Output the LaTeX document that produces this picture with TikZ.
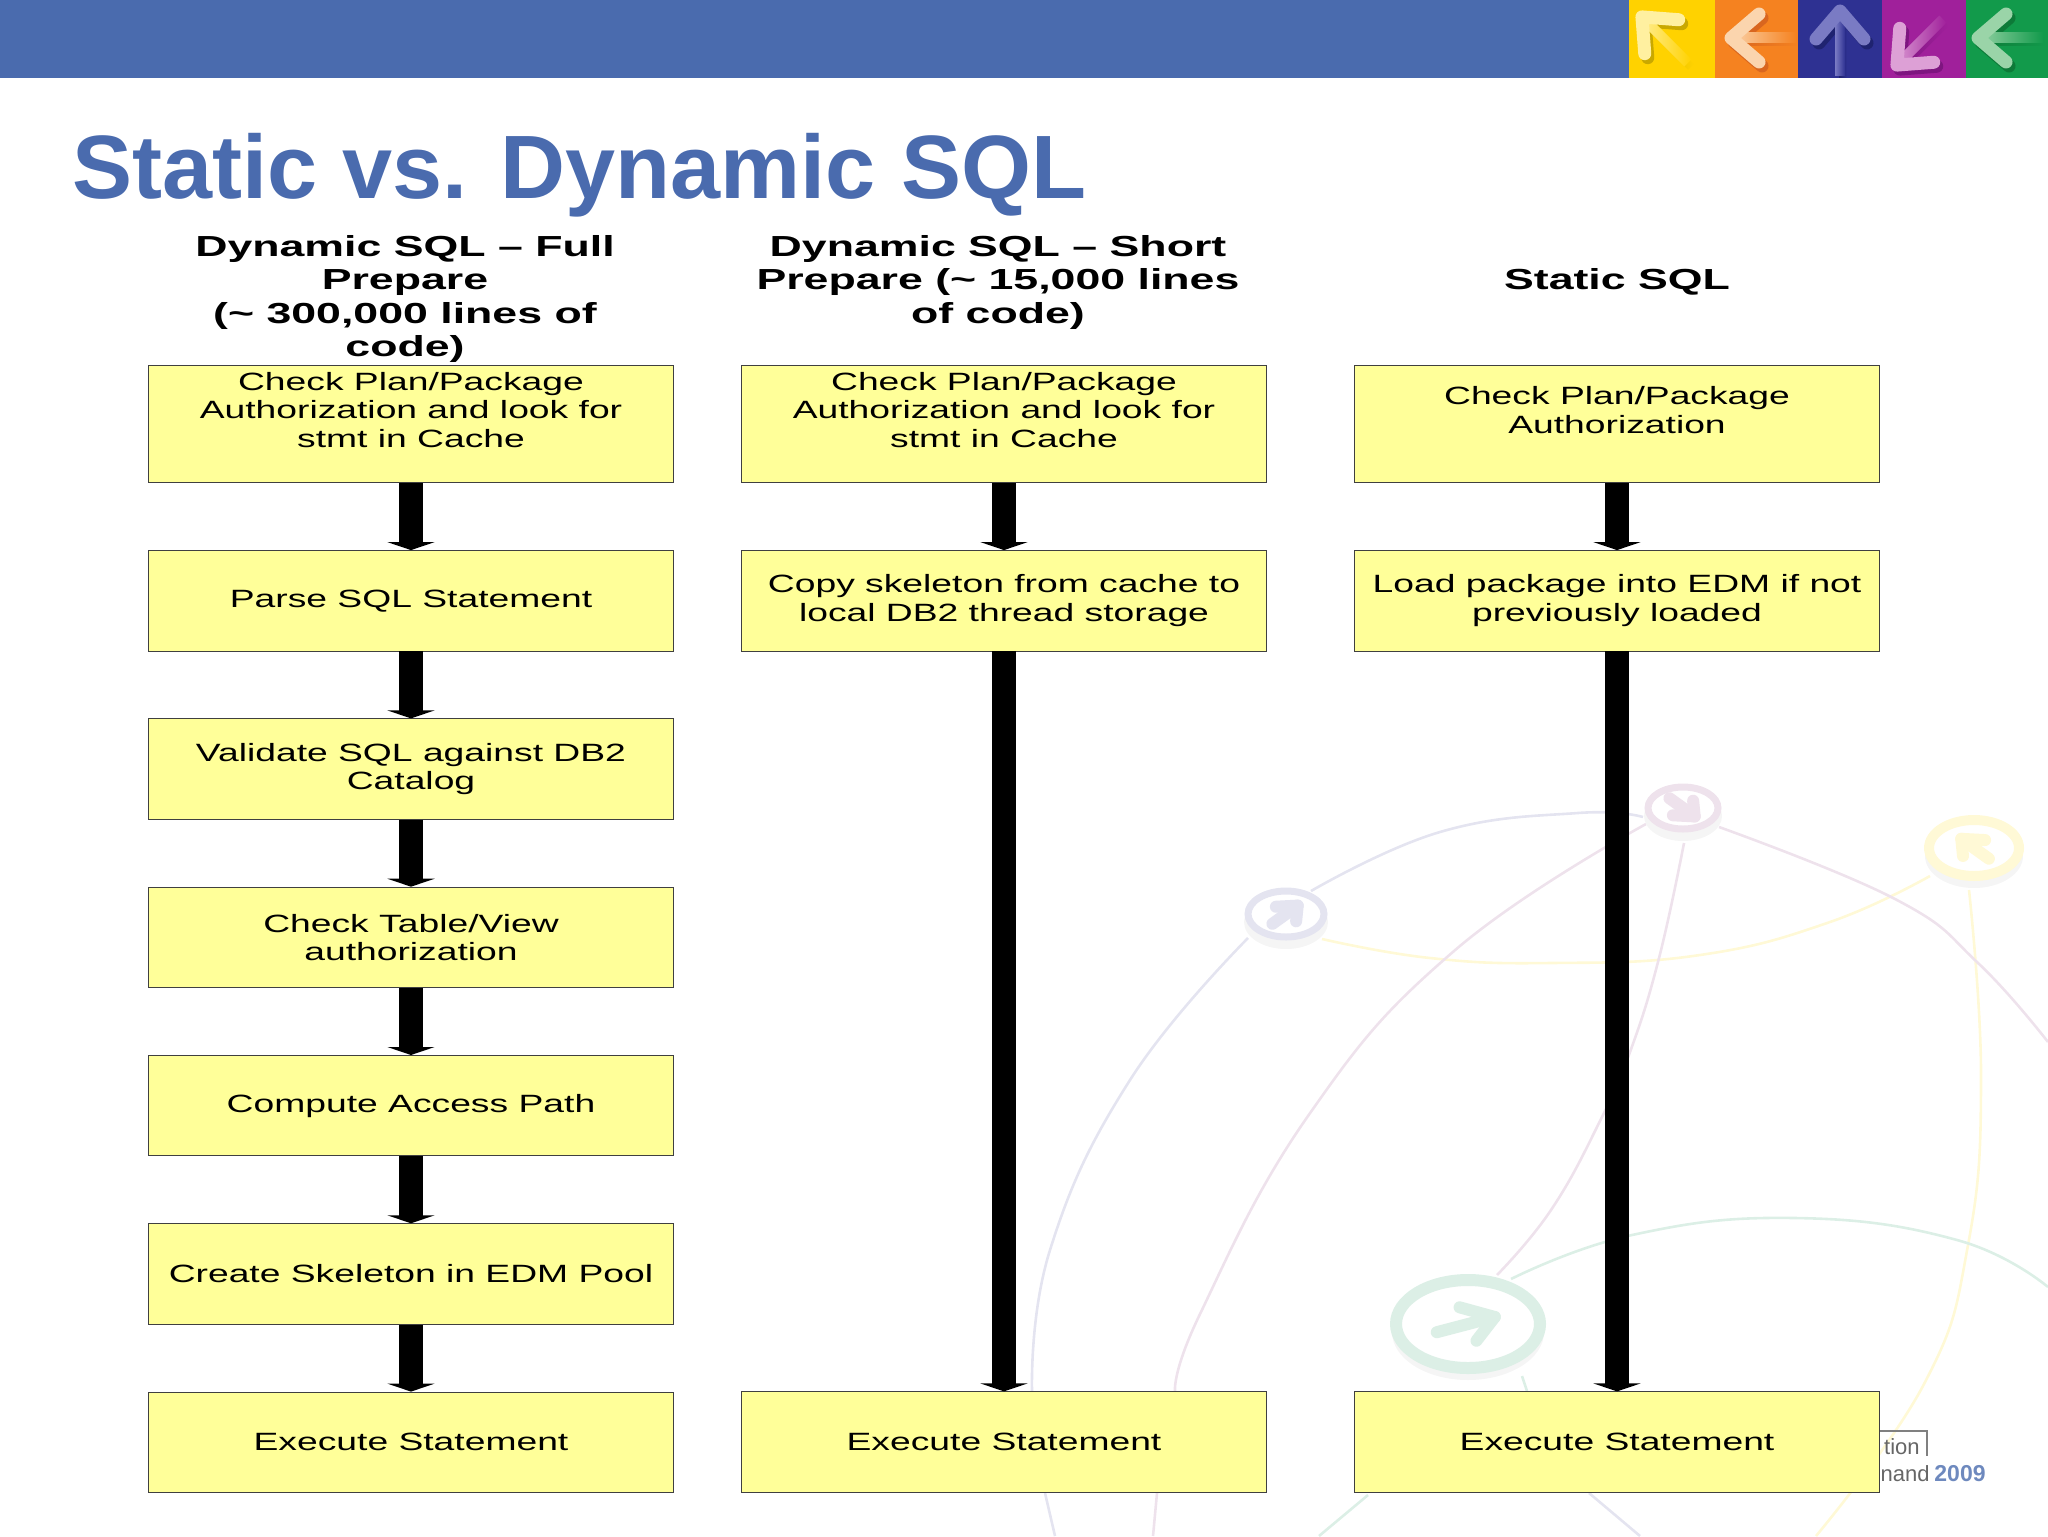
\documentclass[tikz,border=0pt]{standalone}
\usepackage{fontspec}
\usepackage{tikz}
\usetikzlibrary{positioning,arrows.meta}
\setmainfont{Liberation Sans}
\newfontfamily\wideface[FakeStretch=1.49]{Liberation Sans}
\newfontfamily\headface[FakeStretch=1.54]{Liberation Sans}
\definecolor{barblue}{HTML}{4A6BAE}
\definecolor{boxyellow}{HTML}{FFFF99}
\definecolor{palelav}{HTML}{E4E4F0}
\definecolor{palemauve}{HTML}{EEE2EC}
\definecolor{paleyellow}{HTML}{FFF9D6}
\definecolor{palegreen}{HTML}{DCEFE6}

\newcommand{\arrowmark}[2]{%
	\draw[#1,line width=#2,line cap=round,line join=round] (0,-26) -- (-30,0) -- (0,26);
	\draw[#1,line width=#2,line cap=round] (-30,0) -- (35,0);
}
\newcommand{\tilemark}[3]{%
	\shade[left color=#1,right color=#2] (-30,-#3) rectangle (38,#3);
	\draw[#1,line width=6.5pt,line cap=round,line join=round] (1,-24) -- (-27,0) -- (1,24);
}

\begin{document}
\begin{tikzpicture}
[x=0.5pt,y=-0.5pt,node distance=33.55pt,
stepbox/.style={draw=black!75,line width=0.4pt,fill=boxyellow,inner sep=0pt,align=center,
	minimum width=262.6pt,minimum height=50.2pt,
	font=\wideface\fontsize{12.5}{14.2}\selectfont},
tallbox/.style={stepbox,minimum height=58.6pt},
headtext/.style={align=center,inner sep=0pt,font=\headface\bfseries\fontsize{14.5}{16.75}\selectfont},
flowarrow/.style={-{Triangle[width=23.5pt,length=4pt]},line width=12.3pt},
bgarc/.style={line width=1.3pt,smooth,tension=0.75}]

\useasboundingbox (0,0) rectangle (2048,1536);

% banner
\fill[barblue] (0,0) rectangle (1629,78);
\begin{scope}
\clip (1629,0) rectangle (2048,78);
\foreach \xa/\xb/\xc/\yc/\rot/\tile/\ink/\dark in {1629/1715/1661/36/-45/FFD200/FFF0A0/C9A800,1715/1798/1758/38/0/F58220/FBD5AE/D9661F,1798/1882/1840/38/-90/2E3192/7A7BC4/1F2370,1882/1966/1916/46/45/A0209B/DDA0D6/7E1580,1966/2048/2005/38/0/129A4B/9AD4A8/0D7A38}{
	\definecolor{tilecol}{HTML}{\tile}
	\definecolor{inkcol}{HTML}{\ink}
	\definecolor{darkcol}{HTML}{\dark}
	\fill[tilecol] (\xa,0) rectangle (\xb,78);
	\begin{scope}[shift={(\xc+3,\yc+4)},rotate=\rot]
	\tilemark{darkcol}{tilecol}{4}
	\end{scope}
	\begin{scope}[shift={(\xc,\yc)},rotate=\rot]
	\tilemark{inkcol}{tilecol}{5}
	\end{scope}
}
\end{scope}

% background arcs
\draw[bgarc,palelav] plot[smooth,tension=0.75] coordinates {(1311,891) (1440,832) (1578,813) (1643,817)};
\draw[bgarc,palelav] plot[smooth,tension=0.75] coordinates {(1248,938) (1130,1080) (1050,1250) (1032,1391)};
\draw[bgarc,palelav] plot[smooth] coordinates {(1045,1493) (1055,1536)};
\draw[bgarc,palelav] plot[smooth] coordinates {(1589,1493) (1640,1536)};
\draw[bgarc,paleyellow] plot[smooth,tension=0.75] coordinates {(1322,939) (1430,958) (1551,963) (1700,955) (1830,922) (1930,876)};
\draw[bgarc,paleyellow] plot[smooth,tension=0.75] coordinates {(1969,890) (1981,1077) (1968,1245) (1924,1384) (1816,1536)};
\draw[bgarc,palemauve] plot[smooth,tension=0.75] coordinates {(1646,824) (1454,951) (1308,1116) (1200,1314) (1175,1391)};
\draw[bgarc,palemauve] plot[smooth] coordinates {(1157,1493) (1153,1536)};
\draw[bgarc,palemauve] plot[smooth,tension=0.75] coordinates {(1684,843) (1659,958) (1630,1052) (1600,1121) (1551,1210) (1497,1275)};
\draw[bgarc,palemauve] plot[smooth,tension=0.75] coordinates {(1719,827) (1895,899) (1978,963) (2048,1042)};
\draw[bgarc,palegreen] plot[smooth,tension=0.75] coordinates {(1511,1279) (1632,1235) (1795,1218) (1957,1240) (2048,1287)};
\draw[bgarc,palegreen] plot[smooth] coordinates {(1522,1376) (1527,1391)};
\draw[bgarc,palegreen] plot[smooth] coordinates {(1368,1495) (1319,1536)};

% rings
\foreach \xc/\yc/\rx/\ry/\thick/\rot/\sz/\col in {1286/914/38/23/3.5pt/225/0.55/palelav,1683/808/35/21/3.5pt/135/0.55/palemauve,1974/848/45/28/5pt/-45/0.6/paleyellow,1468/1324/72/44/6pt/-160/0.95/palegreen}{
	\fill[black!4] (\xc,\yc+8) ellipse [x radius=\rx+4,y radius=\ry+4];
	\fill[white] (\xc,\yc) ellipse [x radius=\rx,y radius=\ry];
	\draw[\col,line width=\thick] (\xc,\yc) ellipse [x radius=\rx,y radius=\ry];
	\begin{scope}[shift={(\xc,\yc)},yscale=0.72,scale=\sz,rotate=\rot]
	\arrowmark{\col}{6pt}
	\end{scope}
}

% footer
\draw[black!50,line width=0.6pt] (1870,1431) -- (1927,1431) -- (1927,1456);
\node (tagone) [anchor=base east,inner sep=0pt,text=black!60,font=\fontsize{11}{11}\selectfont] at (1920,1454) {tion};
\node (tagtwo) [anchor=base east,inner sep=0pt,text=black!60,font=\fontsize{11}{11}\selectfont] at (1930,1481) {nand};
\node (tagyear) [anchor=base west,inner sep=0pt,text=barblue!80,font=\bfseries\fontsize{11.5}{11.5}\selectfont] at (1934,1481) {2009};

% title
\node (title) [anchor=base west,inner sep=0pt,text=barblue,font=\bfseries\fontsize{45}{50}\selectfont] at (72,198) {Static vs. Dynamic SQL};

% column heads
\node (headfull) [headtext] at (405,299) {Dynamic SQL – Full\\Prepare\\(\symbol{126} 300,000 lines of\\code)};
\node (headshort) [headtext] at (998,282) {Dynamic SQL – Short\\Prepare (\symbol{126} 15,000 lines\\of code)};
\node (headstatic) [headtext] at (1617,282) {Static SQL};

% full prepare
\node (full1) [tallbox] at (411,424) {Check Plan/Package\\Authorization and look for\\stmt in Cache\\\mbox{}};
\node (full2) [stepbox,below=of full1] {Parse SQL Statement};
\node (full3) [stepbox,below=of full2] {Validate SQL against DB2\\Catalog};
\node (full4) [stepbox,below=of full3] {Check Table/View\\authorization};
\node (full5) [stepbox,below=of full4] {Compute Access Path};
\node (full6) [stepbox,below=of full5] {Create Skeleton in EDM Pool};
\node (full7) [stepbox,below=of full6] {Execute Statement};

% short prepare
\node (short1) [tallbox] at (1004,424) {Check Plan/Package\\Authorization and look for\\stmt in Cache\\\mbox{}};
\node (short2) [stepbox,below=of short1] {Copy skeleton from cache to\\local DB2 thread storage};
\node (short3) [stepbox] at (1004,1442) {Execute Statement};

% static
\node (static1) [tallbox] at (1617,424) {Check Plan/Package\\Authorization\\\mbox{}};
\node (static2) [stepbox,below=of static1] {Load package into EDM if not\\previously loaded};
\node (static3) [stepbox] at (1617,1442) {Execute Statement};

\draw[flowarrow] (full1) -- (full2);
\draw[flowarrow] (full2) -- (full3);
\draw[flowarrow] (full3) -- (full4);
\draw[flowarrow] (full4) -- (full5);
\draw[flowarrow] (full5) -- (full6);
\draw[flowarrow] (full6) -- (full7);
\draw[flowarrow] (short1) -- (short2);
\draw[flowarrow] (short2) -- (short3);
\draw[flowarrow] (static1) -- (static2);
\draw[flowarrow] (static2) -- (static3);
\end{tikzpicture}
\end{document}
